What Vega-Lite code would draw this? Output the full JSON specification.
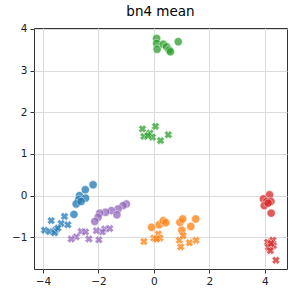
{
  "$schema": "https://vega.github.io/schema/vega-lite/v6.json",
  "autosize": {"type": "none"},
  "padding": {"left": 34, "top": 28, "right": 12, "bottom": 30},
  "width": 253,
  "height": 241,
  "title": {"text": "bn4 mean", "font": "DejaVu Sans", "fontSize": 13.5, "fontWeight": "normal", "color": "#000", "offset": 5},
  "config": {
    "view": {"stroke": "#333", "strokeWidth": 1},
    "axis": {"labelFont": "DejaVu Sans", "labelFontSize": 10.5, "labelColor": "#222", "tickColor": "#333", "tickSize": 4, "domain": false, "gridColor": "#dcdcdc", "gridWidth": 1, "title": null, "labelPadding": 3}
  },
  "data": {"values": [
    {"g": "blue", "m": "o", "x": -2.19, "y": 0.26},
    {"g": "blue", "m": "o", "x": -2.47, "y": 0.14},
    {"g": "blue", "m": "o", "x": -2.68, "y": 0.0},
    {"g": "blue", "m": "o", "x": -2.46, "y": -0.06},
    {"g": "blue", "m": "o", "x": -2.71, "y": -0.1},
    {"g": "blue", "m": "o", "x": -2.8, "y": -0.2},
    {"g": "blue", "m": "o", "x": -2.62, "y": -0.14},
    {"g": "blue", "m": "o", "x": -2.88, "y": -0.45},
    {"g": "blue", "m": "x", "x": -3.7, "y": -0.6},
    {"g": "blue", "m": "x", "x": -3.22, "y": -0.5},
    {"g": "blue", "m": "x", "x": -3.34, "y": -0.67},
    {"g": "blue", "m": "x", "x": -3.1, "y": -0.7},
    {"g": "blue", "m": "x", "x": -3.94, "y": -0.83},
    {"g": "blue", "m": "x", "x": -3.76, "y": -0.86},
    {"g": "blue", "m": "x", "x": -3.54, "y": -0.83},
    {"g": "blue", "m": "x", "x": -3.58, "y": -0.89},
    {"g": "blue", "m": "x", "x": -3.46, "y": -0.78},
    {"g": "purple", "m": "o", "x": -0.99, "y": -0.2},
    {"g": "purple", "m": "o", "x": -1.11, "y": -0.24},
    {"g": "purple", "m": "o", "x": -1.29, "y": -0.32},
    {"g": "purple", "m": "o", "x": -1.53, "y": -0.36},
    {"g": "purple", "m": "o", "x": -1.33, "y": -0.46},
    {"g": "purple", "m": "o", "x": -1.74, "y": -0.4},
    {"g": "purple", "m": "o", "x": -1.95, "y": -0.42},
    {"g": "purple", "m": "o", "x": -2.01, "y": -0.52},
    {"g": "purple", "m": "o", "x": -2.13, "y": -0.62},
    {"g": "purple", "m": "x", "x": -1.77, "y": -0.8},
    {"g": "purple", "m": "x", "x": -1.59, "y": -0.79},
    {"g": "purple", "m": "x", "x": -1.86, "y": -0.87},
    {"g": "purple", "m": "x", "x": -2.07, "y": -0.84},
    {"g": "purple", "m": "x", "x": -2.62, "y": -0.86},
    {"g": "purple", "m": "x", "x": -2.46, "y": -0.87},
    {"g": "purple", "m": "x", "x": -2.8, "y": -0.99},
    {"g": "purple", "m": "x", "x": -2.98, "y": -1.04},
    {"g": "purple", "m": "x", "x": -2.34, "y": -1.04},
    {"g": "purple", "m": "x", "x": -1.98, "y": -1.06},
    {"g": "orange", "m": "o", "x": -0.08, "y": -0.76},
    {"g": "orange", "m": "o", "x": 0.19, "y": -0.7},
    {"g": "orange", "m": "o", "x": 0.34, "y": -0.6},
    {"g": "orange", "m": "o", "x": 0.43, "y": -0.65},
    {"g": "orange", "m": "o", "x": 0.94, "y": -0.64},
    {"g": "orange", "m": "o", "x": 1.04, "y": -0.56},
    {"g": "orange", "m": "o", "x": 1.51, "y": -0.56},
    {"g": "orange", "m": "o", "x": 1.33, "y": -0.74},
    {"g": "orange", "m": "o", "x": 1.01, "y": -0.83},
    {"g": "orange", "m": "x", "x": -0.36, "y": -1.1},
    {"g": "orange", "m": "x", "x": 0.0, "y": -1.02},
    {"g": "orange", "m": "x", "x": 0.16, "y": -0.92},
    {"g": "orange", "m": "x", "x": 0.22, "y": -1.02},
    {"g": "orange", "m": "x", "x": 0.1, "y": -1.04},
    {"g": "orange", "m": "x", "x": 0.92, "y": -1.07},
    {"g": "orange", "m": "x", "x": 1.06, "y": -0.96},
    {"g": "orange", "m": "x", "x": 1.28, "y": -1.13},
    {"g": "orange", "m": "x", "x": 1.52, "y": -1.07},
    {"g": "orange", "m": "x", "x": 0.97, "y": -1.23},
    {"g": "green", "m": "o", "x": 0.1, "y": 3.77},
    {"g": "green", "m": "o", "x": 0.1, "y": 3.65},
    {"g": "green", "m": "o", "x": 0.12, "y": 3.51},
    {"g": "green", "m": "o", "x": 0.34, "y": 3.63},
    {"g": "green", "m": "o", "x": 0.46, "y": 3.57},
    {"g": "green", "m": "o", "x": 0.55, "y": 3.49},
    {"g": "green", "m": "o", "x": 0.88, "y": 3.69},
    {"g": "green", "m": "o", "x": 0.6, "y": 3.45},
    {"g": "green", "m": "x", "x": -0.41, "y": 1.6},
    {"g": "green", "m": "x", "x": -0.14, "y": 1.5},
    {"g": "green", "m": "x", "x": 0.06, "y": 1.66},
    {"g": "green", "m": "x", "x": -0.36, "y": 1.42},
    {"g": "green", "m": "x", "x": -0.05, "y": 1.4},
    {"g": "green", "m": "x", "x": 0.24, "y": 1.32},
    {"g": "green", "m": "x", "x": 0.52, "y": 1.46},
    {"g": "green", "m": "x", "x": -0.21, "y": 1.44},
    {"g": "red", "m": "o", "x": 4.17, "y": 0.02},
    {"g": "red", "m": "o", "x": 3.95, "y": -0.08},
    {"g": "red", "m": "o", "x": 4.07, "y": -0.14},
    {"g": "red", "m": "o", "x": 3.98, "y": -0.24},
    {"g": "red", "m": "o", "x": 4.22, "y": -0.14},
    {"g": "red", "m": "o", "x": 4.23, "y": -0.42},
    {"g": "red", "m": "o", "x": 4.12, "y": -0.18},
    {"g": "red", "m": "x", "x": 4.1, "y": -1.12},
    {"g": "red", "m": "x", "x": 4.29, "y": -1.07},
    {"g": "red", "m": "x", "x": 4.13, "y": -1.24},
    {"g": "red", "m": "x", "x": 4.31, "y": -1.2},
    {"g": "red", "m": "x", "x": 4.2, "y": -1.32},
    {"g": "red", "m": "x", "x": 4.4, "y": -1.55},
    {"g": "red", "m": "x", "x": 4.22, "y": -1.15}
  ]},
  "mark": {"type": "point", "filled": true, "opacity": 0.75, "stroke": "white", "strokeWidth": 0.6, "size": 70},
  "encoding": {
    "x": {"field": "x", "type": "quantitative", "scale": {"domain": [-4.32, 4.8], "nice": false, "zero": false}, "axis": {"values": [-4, -2, 0, 2, 4], "labelExpr": "replace(datum.label, '-', '\u2212')"}},
    "y": {"field": "y", "type": "quantitative", "scale": {"domain": [-1.76, 4.02], "nice": false, "zero": false}, "axis": {"values": [-1, 0, 1, 2, 3, 4], "labelExpr": "replace(datum.label, '-', '\u2212')"}},
    "color": {"field": "g", "type": "nominal", "scale": {"domain": ["blue", "orange", "green", "red", "purple"], "range": ["#1f77b4", "#ff7f0e", "#2ca02c", "#d62728", "#9467bd"]}, "legend": null},
    "shape": {"field": "m", "type": "nominal", "scale": {"domain": ["o", "x"], "range": ["circle", "M-0.35,-1L0,-0.55L0.35,-1L1,-0.35L0.55,0L1,0.35L0.35,1L0,0.55L-0.35,1L-1,0.35L-0.55,0L-1,-0.35Z"]}, "legend": null}
  }
}
